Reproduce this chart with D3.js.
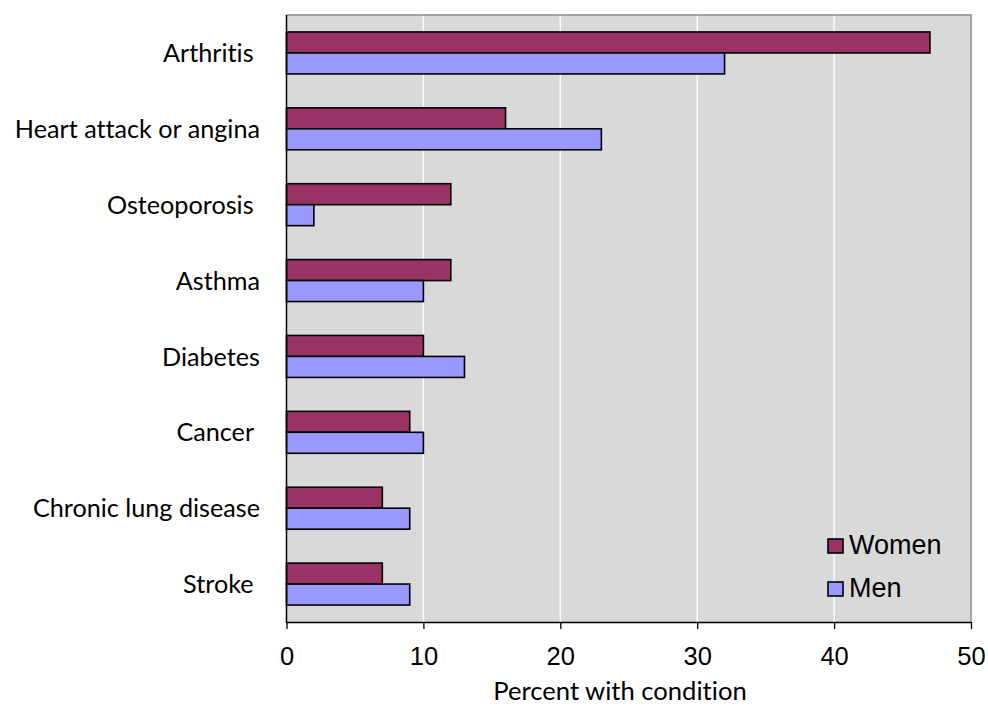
<!DOCTYPE html>
<html>
<head>
<meta charset="utf-8">
<script src="https://cdn.jsdelivr.net/npm/d3@7/dist/d3.min.js"></script>
<style>
html,body{margin:0;padding:0;background:#fff;}
svg{display:block;}
text{font-variant-ligatures:none;font-feature-settings:"liga" 0, "clig" 0, "dlig" 0;}
</style>
</head>
<body>
<svg id="chart" width="988" height="708"></svg>
<script>
const categories = ["Arthritis ", "Heart attack or angina", "Osteoporosis ", "Asthma", "Diabetes", "Cancer ", "Chronic lung disease", "Stroke "];
const seriesNames = ["Women", "Men"];
const women = [47, 16, 12, 12, 10, 9, 7, 7];
const men = [32, 23, 2, 10, 13, 10, 9, 9];
const xTicks = [0, 10, 20, 30, 40, 50];
const colors = ["#993366", "#9999FF"];

(function () {
const svg = d3.select("#chart");
const pLeft = 286.5, pRight = 971, pTop = 15, pBottom = 622;

const x = d3.scaleLinear().domain([0, 50]).range([pLeft, pRight]);
const y = d3.scaleBand().domain(categories).range([pTop, pBottom]).paddingInner(0.447).paddingOuter(0.2235);
const sub = d3.scaleBand().domain(seriesNames).range([0, y.bandwidth()]);

svg.append("rect").attr("x", pLeft).attr("y", pTop).attr("width", pRight - pLeft).attr("height", pBottom - pTop)
  .attr("fill", "#D9D9D9");

svg.append("g").selectAll("line").data(xTicks.slice(1, -1)).join("line")
  .attr("x1", d => x(d)).attr("x2", d => x(d)).attr("y1", pTop).attr("y2", pBottom)
  .attr("stroke", "#fff").attr("stroke-width", 1.3);

svg.append("path").attr("d", `M${pLeft},${pTop}H${pRight}V${pBottom}`).attr("fill", "none")
  .attr("stroke", "#8c8c8c").attr("stroke-width", 1.5);

const data = categories.map((c, i) => ({cat: c, vals: [women[i], men[i]]}));
const groups = svg.append("g").selectAll("g").data(data).join("g")
  .attr("transform", d => `translate(0,${y(d.cat)})`);
groups.selectAll("rect").data(d => d.vals.map((v, j) => ({v, s: seriesNames[j], j}))).join("rect")
  .attr("x", x(0)).attr("y", d => sub(d.s)).attr("width", d => x(d.v) - x(0)).attr("height", sub.bandwidth())
  .attr("fill", d => colors[d.j]).attr("stroke", "#000").attr("stroke-width", 1.6);

const xAxis = d3.axisBottom(x).tickValues(xTicks).tickSize(7).tickSizeOuter(0);
const gx = svg.append("g").attr("transform", `translate(0,${pBottom})`).call(xAxis);
gx.select(".domain").attr("stroke", "#000").attr("stroke-width", 1.5);
gx.selectAll(".tick line").attr("stroke", "#000").attr("stroke-width", 1.3);
gx.selectAll(".tick text").attr("font-family", "'Liberation Sans', Arial, sans-serif")
  .attr("font-size", 25.5).attr("fill", "#000").attr("dy", "1.3em");

svg.append("line").attr("x1", pLeft).attr("x2", pLeft).attr("y1", pTop).attr("y2", pBottom + 1)
  .attr("stroke", "#000").attr("stroke-width", 1.5);

const yAxis = d3.axisLeft(y).tickSize(0).tickPadding(0);
const gy = svg.append("g").attr("transform", `translate(${260},0)`).call(yAxis);
gy.select(".domain").remove();
gy.selectAll(".tick text").attr("font-family", "Lato, 'Open Sans', sans-serif")
  .attr("font-size", 25.2).attr("fill", "#000").style("white-space", "pre").attr("dy", "0.36em");

svg.append("text").attr("x", 620).attr("y", 700).attr("text-anchor", "middle")
  .attr("font-family", "Lato, 'Open Sans', sans-serif").attr("font-size", 25.6).attr("fill", "#000")
  .text("Percent with condition");

const legend = svg.append("g").attr("transform", "translate(828,539)");
const li = legend.selectAll("g").data(seriesNames).join("g").attr("transform", (d, i) => `translate(0,${i * 43})`);
li.append("rect").attr("width", 15).attr("height", 14).attr("fill", (d, i) => colors[i])
  .attr("stroke", "#000").attr("stroke-width", 1.6);
li.append("text").attr("x", 21).attr("y", 15).attr("font-family", "'Liberation Sans', Arial, sans-serif")
  .attr("font-size", 27).attr("fill", "#000").text(d => d);
})();
</script>
</body>
</html>
